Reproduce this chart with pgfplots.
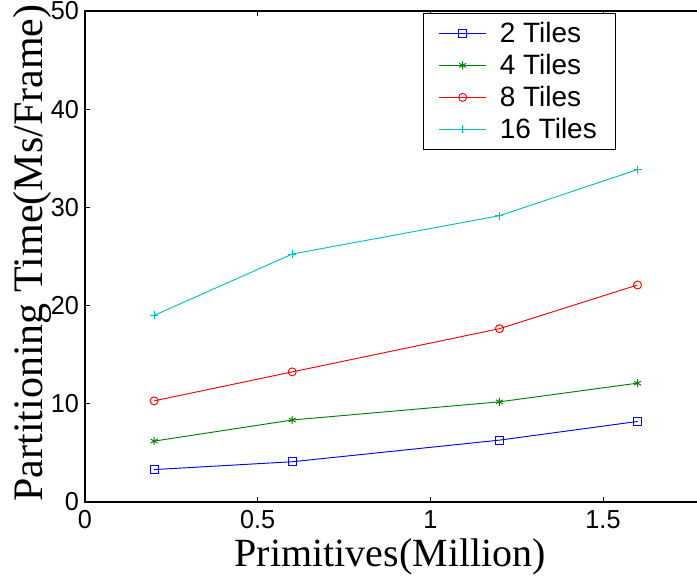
\documentclass[border=0pt]{standalone}
\usepackage{fontspec}
\setmainfont{Liberation Serif}
\newfontfamily\tickfont{Liberation Sans}[FakeStretch=0.97]
\newfontfamily\legfont{Liberation Sans}
\usepackage{pgfplots}
\pgfplotsset{compat=1.18}
\definecolor{mblue}{rgb}{0,0,1}
\definecolor{mgreen}{rgb}{0,0.5,0}
\definecolor{mred}{rgb}{1,0,0}
\definecolor{mcyan}{rgb}{0,0.75,0.75}
\begin{document}
\begin{tikzpicture}
\begin{axis}[
  scale only axis,
  width=466.2pt, height=368.25pt,
  xmin=0, xmax=1.8, ymin=0, ymax=50,
  xtick={0,0.5,1,1.5},
  ytick={0,10,20,30,40,50},
  tick align=inside,
  major tick length=3.75pt,
  axis line style={line width=0.9pt},
  every tick/.style={black, line width=0.6pt},
  /pgf/number format/assume math mode=true,
  ticklabel style={font=\tickfont\fontsize{19.5}{19.5}\selectfont},
  xticklabel style={yshift=-3pt},
  yticklabel style={xshift=-1pt},
  xlabel={\fontsize{30}{30}\selectfont Primitives(Million)},
  xlabel style={at={(rel axis cs:0.491,-0.132)}, anchor=base, inner sep=0pt},
  ylabel={\fontsize{31.5}{31.5}\selectfont Partitioning Time(Ms/Frame)},
  ylabel style={at={(rel axis cs:-0.0676,0.507)}, anchor=base, inner sep=0pt},
  legend cell align=left,
  legend style={at={(rel axis cs:0.544,0.996)}, anchor=north west,
    draw=black, line width=0.6pt, font=\legfont\fontsize{21}{21}\selectfont,
    row sep=0pt, column sep=7.5pt, inner xsep=11.5pt, inner ysep=3pt,
    nodes={inner sep=2.5pt, text height=16pt, text depth=3pt}},
  legend image code/.code={\draw[mark repeat=2,mark phase=2] plot coordinates {(0pt,0pt)(17.5pt,0pt)(35pt,0pt)};},
  every axis plot/.append style={line width=0.7pt, mark size=3pt, mark options={solid, line width=0.7pt}},
]
\coordinate (o) at (rel axis cs:0,0);
\addplot[color=mblue, mark=square] coordinates {(0.2,3.3) (0.6,4.1) (1.2,6.3) (1.6,8.2)};
\addlegendentry{2 Tiles}
\addplot[color=mgreen, mark=asterisk] coordinates {(0.2,6.2) (0.6,8.35) (1.2,10.2) (1.6,12.1)};
\addlegendentry{4 Tiles}
\addplot[color=mred, mark=o] coordinates {(0.2,10.3) (0.6,13.25) (1.2,17.65) (1.6,22.1)};
\addlegendentry{8 Tiles}
\addplot[color=mcyan, mark=+] coordinates {(0.2,19.0) (0.6,25.25) (1.2,29.15) (1.6,33.85)};
\addlegendentry{16 Tiles}
\end{axis}
\pgfresetboundingbox
\path[use as bounding box] (o) ++(-63.75pt,-57pt) rectangle ++(522.75pt,433.5pt);
\end{tikzpicture}
\end{document}
